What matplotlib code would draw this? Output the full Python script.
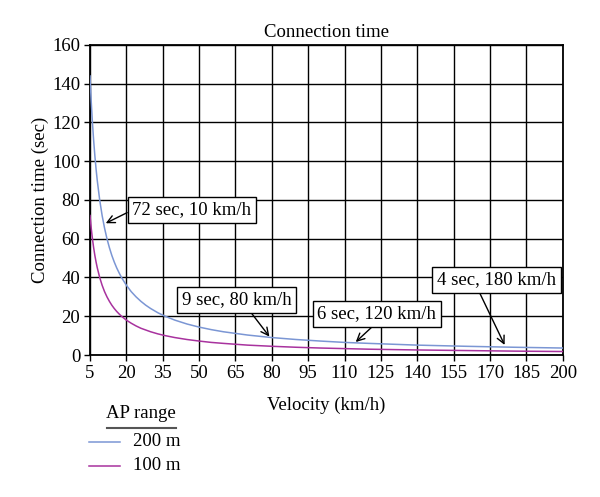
import matplotlib.pyplot as plt
from matplotlib.lines import Line2D

plt.rcParams['font.family'] = ['Liberation Serif', 'DejaVu Serif']

# Velocity (km/h) and connection time (sec)
velocity = [5, 5.5, 6, 6.5, 7, 7.5, 8, 9, 10, 11, 12, 13, 14, 15, 16, 17, 18,
            20, 22, 24, 26, 28, 30, 33, 36, 40, 45, 50, 55, 60, 70, 80, 90,
            100, 110, 120, 140, 160, 180, 200]
time_200m = [144, 130.9, 120, 110.8, 102.9, 96, 90, 80, 72, 65.5, 60, 55.4,
             51.4, 48, 45, 42.4, 40, 36, 32.7, 30, 27.7, 25.7, 24, 21.8, 20,
             18, 16, 14.4, 13.1, 12, 10.3, 9, 8, 7.2, 6.5, 6, 5.1, 4.5, 4, 3.6]
time_100m = [72, 65.5, 60, 55.4, 51.4, 48, 45, 40, 36, 32.7, 30, 27.7, 25.7,
             24, 22.5, 21.2, 20, 18, 16.4, 15, 13.8, 12.9, 12, 10.9, 10, 9,
             8, 7.2, 6.5, 6, 5.1, 4.5, 4, 3.6, 3.3, 3, 2.6, 2.3, 2, 1.8]
labels = ['200 m', '100 m']

xticks = list(range(5, 201, 15))
yticks = list(range(0, 161, 20))

# annotation text, arrow head (x, y), box centre (x, y), arrow start on box
notes = [
    ('72 sec, 10 km/h', (11.5, 68), (47, 74.8), (0, 0.5)),
    ('9 sec, 80 km/h', (79, 9.5), (65.6, 28.4), (0.6, 0)),
    ('6 sec, 120 km/h', (114.6, 6.7), (123.3, 21.2), (0.5, 0)),
    ('4 sec, 180 km/h', (176, 5.2), (172.7, 38.7), (0.34, 0)),
]

fs = 13.5
W, H = 600, 497

fig = plt.figure(figsize=(6, 4.97), dpi=100)
ax = fig.add_axes([0.15, 0.2857, 0.788, 0.6238])

l1, = ax.plot(velocity, time_200m, color='#7b96d4', lw=1.1, zorder=3)
l2, = ax.plot(velocity, time_100m, color='#a8329e', lw=1.1, zorder=3)

ax.set_xlim(5, 200)
ax.set_ylim(0, 160)
ax.set_xticks(xticks)
ax.set_yticks(yticks)
ax.grid(True, color='black', lw=1)
ax.set_axisbelow(True)
for s in ax.spines.values():
    s.set_linewidth(1.3)
ax.tick_params(labelsize=fs, length=4, width=1, pad=3)

ax.set_title('Connection time', fontsize=fs, pad=6)
ax.set_xlabel('Velocity (km/h)', fontsize=fs, labelpad=11)
ax.set_ylabel('Connection time (sec)', fontsize=fs, labelpad=2)

for txt, head, box, rel in notes:
    ax.annotate(txt, xy=head, xytext=box, ha='center', va='center',
                fontsize=fs, zorder=4,
                bbox=dict(boxstyle='square,pad=0.25', fc='white', ec='black', lw=1),
                arrowprops=dict(arrowstyle='->', color='black', lw=1,
                                relpos=rel, shrinkA=0, shrinkB=0))

# legend drawn by hand: underlined title, then line samples
fig.text(141 / W, 1 - 414 / H, 'AP range', ha='center', va='center', fontsize=fs)
fig.add_artist(Line2D([107 / W, 176 / W], [1 - 428 / H] * 2,
                      color='#555555', lw=1.5))
for i, (ln, lab) in enumerate(zip([l1, l2], labels)):
    y = 1 - (442 + 24 * i) / H
    fig.add_artist(Line2D([89 / W, 120 / W], [y, y], color=ln.get_color(), lw=1.1))
    fig.text(133 / W, y, lab, ha='left', va='center', fontsize=fs)

fig.savefig('out.png', dpi=100)
